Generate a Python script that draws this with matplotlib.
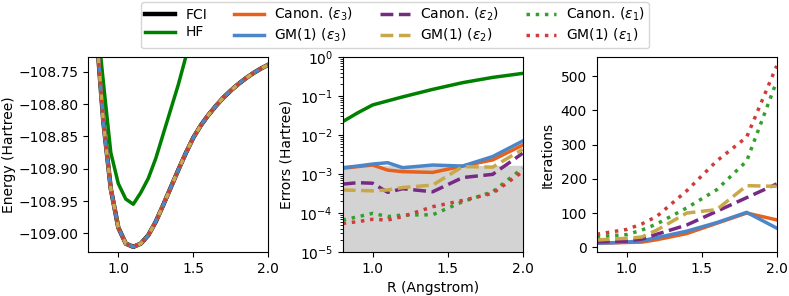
import numpy as np
import matplotlib
matplotlib.use("Agg")
import matplotlib.pyplot as plt

# ---------------- data ----------------
# Energy curves (fine grid)
R_fine = [0.80, 0.85, 0.90, 0.95, 1.00, 1.05, 1.10, 1.15, 1.20, 1.25, 1.30, 1.35,
          1.40, 1.45, 1.50, 1.55, 1.60, 1.65, 1.70, 1.75, 1.80, 1.85, 1.90, 1.95, 2.00]
E_fci = [-108.476, -108.676, -108.826, -108.931, -108.991, -109.016, -109.021, -109.016,
         -109.003, -108.982, -108.956, -108.929, -108.902, -108.876, -108.852, -108.833,
         -108.817, -108.803, -108.790, -108.779, -108.769, -108.760, -108.752, -108.745,
         -108.739]
E_hf = [-108.45, -108.65, -108.765, -108.875, -108.923, -108.947, -108.955, -108.937,
        -108.915, -108.884, -108.846, -108.808, -108.770, -108.727, -108.685, -108.648,
        -108.612, -108.578, -108.546, -108.516, -108.488, -108.462, -108.438, -108.416,
        -108.395]

# Errors and iterations (coarse grid)
R = [0.8, 0.9, 1.0, 1.1, 1.2, 1.4, 1.6, 1.8, 2.0]
err_hf = [0.022, 0.037, 0.059, 0.075, 0.095, 0.148, 0.22, 0.30, 0.38]
err_canon3 = [1.4e-3, 1.55e-3, 1.7e-3, 1.26e-3, 1.15e-3, 1.1e-3, 1.6e-3, 2.3e-3, 5.5e-3]
err_gm3 = [1.45e-3, 1.6e-3, 1.8e-3, 1.95e-3, 1.45e-3, 1.7e-3, 1.6e-3, 2.8e-3, 7.0e-3]
err_canon2 = [5.5e-4, 6.0e-4, 5.8e-4, 3.4e-4, 4.2e-4, 3.5e-4, 8.1e-4, 9.8e-4, 3.4e-3]
err_gm2 = [3.9e-4, 3.8e-4, 3.7e-4, 3.9e-4, 4.5e-4, 5.2e-4, 1.55e-3, 1.5e-3, 4.3e-3]
err_canon1 = [6.6e-5, 8.0e-5, 9.8e-5, 8.1e-5, 8.9e-5, 9.0e-5, 1.95e-4, 3.5e-4, 1.4e-3]
err_gm1 = [5.4e-5, 6.0e-5, 6.9e-5, 6.6e-5, 8.1e-5, 1.45e-4, 2.1e-4, 3.2e-4, 1.15e-3]
chem_acc = 1.6e-3

it_canon3 = [12, 13, 14, 15, 22, 40, 70, 100, 80]
it_gm3 = [12, 13, 15, 19, 28, 47, 72, 102, 56]
it_canon2 = [16, 17, 18, 24, 38, 65, 105, 145, 185]
it_gm2 = [21, 24, 26, 30, 50, 100, 110, 180, 178]
it_canon1 = [31, 34, 37, 50, 68, 115, 168, 252, 485]
it_gm1 = [38, 45, 52, 68, 90, 165, 252, 322, 530]

labels = ["FCI", "HF", r"Canon. ($\varepsilon_3$)", r"GM(1) ($\varepsilon_3$)",
          r"Canon. ($\varepsilon_2$)", r"GM(1) ($\varepsilon_2$)",
          r"Canon. ($\varepsilon_1$)", r"GM(1) ($\varepsilon_1$)"]

# ---------------- style ----------------
plt.rcParams["font.size"] = 10
c_fci = "black"
c_hf = "green"
c_c3 = "#E8601C"
c_g3 = "#4A86C8"
c_c2 = "#762A83"
c_g2 = "#C8A848"
c_c1 = "#33A02C"
c_g1 = "#D03C3C"
lw = 2.5

fig = plt.figure(figsize=(7.89, 2.96), dpi=100)
bottom, height, width = 0.1486, 0.6588, 0.2281
ax1 = fig.add_axes([0.1119, bottom, width, height])
ax2 = fig.add_axes([0.4343, bottom, width, height])
ax3 = fig.add_axes([0.7563, bottom, width, height])

# Energy panel
h_fci, = ax1.plot(R_fine, E_fci, color=c_fci, lw=3.2)
h_hf, = ax1.plot(R_fine, E_hf, color=c_hf, lw=lw)
h_c3, = ax1.plot(R_fine, E_fci, color=c_c3, lw=lw, ls="-")
h_g3, = ax1.plot(R_fine, E_fci, color=c_g3, lw=lw, ls="-")
h_c2, = ax1.plot(R_fine, E_fci, color=c_c2, lw=lw, ls="--")
h_g2, = ax1.plot(R_fine, E_fci, color=c_g2, lw=lw, ls="--")
h_c1, = ax1.plot(R_fine, E_fci, color=c_c1, lw=lw, ls=":")
h_g1, = ax1.plot(R_fine, E_fci, color=c_g1, lw=lw, ls=":")
ax1.set_xlim(0.8, 2.0)
ax1.set_ylim(-109.029, -108.727)
ax1.set_ylabel("Energy (Hartree)", labelpad=2)
ax1.set_xticks([1.0, 1.5, 2.0])

# Errors panel
ax2.axhspan(1e-5, chem_acc, color="lightgray", zorder=0)
ax2.plot(R, err_hf, color=c_hf, lw=lw)
ax2.plot(R, err_canon3, color=c_c3, lw=lw, ls="-")
ax2.plot(R, err_gm3, color=c_g3, lw=lw, ls="-")
ax2.plot(R, err_canon2, color=c_c2, lw=lw, ls="--")
ax2.plot(R, err_gm2, color=c_g2, lw=lw, ls="--")
ax2.plot(R, err_canon1, color=c_c1, lw=lw, ls=":")
ax2.plot(R, err_gm1, color=c_g1, lw=lw, ls=":")
ax2.set_yscale("log")
ax2.set_xlim(0.8, 2.0)
ax2.set_ylim(1e-5, 1)
ax2.set_ylabel("Errors (Hartree)")
ax2.set_xlabel("R (Angstrom)")
ax2.set_xticks([1.0, 1.5, 2.0])

# Iterations panel
ax3.plot(R, it_canon3, color=c_c3, lw=lw, ls="-")
ax3.plot(R, it_gm3, color=c_g3, lw=lw, ls="-")
ax3.plot(R, it_canon2, color=c_c2, lw=lw, ls="--")
ax3.plot(R, it_gm2, color=c_g2, lw=lw, ls="--")
ax3.plot(R, it_canon1, color=c_c1, lw=lw, ls=":")
ax3.plot(R, it_gm1, color=c_g1, lw=lw, ls=":")
ax3.set_xlim(0.8, 2.0)
ax3.set_ylabel("Iterations")
ax3.set_xticks([1.0, 1.5, 2.0])

fig.legend([h_fci, h_hf, h_c3, h_g3, h_c2, h_g2, h_c1, h_g1], labels,
           loc="upper center", bbox_to_anchor=(0.5006, 0.994), ncol=4, fontsize=10,
           handlelength=2.16, columnspacing=1.95, labelspacing=0.25, handletextpad=0.72,
           borderpad=0.3, borderaxespad=0)

fig.savefig("out.png", dpi=100)
